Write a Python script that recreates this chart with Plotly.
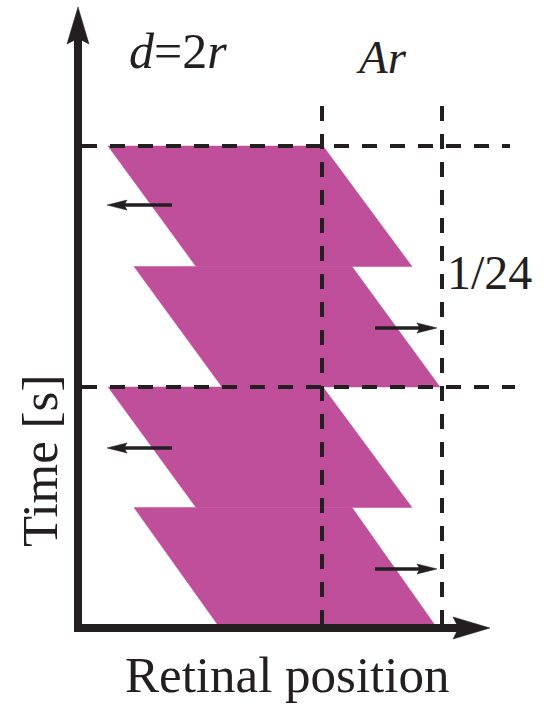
import plotly.graph_objects as go

# ---- data (position in arbitrary retinal units, time in frames of 1/24 s) ----
band_top_t = [2.0, 1.5, 1.0, 0.5]
band_bot_t = [1.5, 1.0, 0.5, 0.0]
top_left = [30, 56, 30, 56]
top_right = [245, 274, 245, 274]
bot_left = [118, 144, 118, 142]
bot_right = [334, 362, 334, 359]

arrow_t = [1.755, 1.245, 0.747, 0.245]
arrow_from = [94, 297, 94, 297]
arrow_to = [29, 359, 29, 359]

frame_lines_t = [2.0, 1.0]
frame_line_x = [[4, 432], [4, 437]]
pos_lines_x = [244, 364]
pos_line_t = [0.0, 2.166]

x_axis_end = 412
t_axis_end = 2.577

MAGENTA = "#BF4F9A"
INK = "#231F20"
FONT = "Liberation Serif, Times New Roman, serif"

# pixel scaling of the axes (for arrowhead geometry)
X_RANGE = [-78, 466]
T_RANGE = [-0.3154, 2.6058]
PX_PER_T = 704 / (T_RANGE[1] - T_RANGE[0])
PX_PER_X = 544 / (X_RANGE[1] - X_RANGE[0])

fig = go.Figure()

# parallelograms
for i in range(len(band_top_t)):
    fig.add_trace(go.Scatter(
        x=[top_left[i], top_right[i], bot_right[i], bot_left[i], top_left[i]],
        y=[band_top_t[i], band_top_t[i], band_bot_t[i], band_bot_t[i], band_top_t[i]],
        fill="toself", fillcolor=MAGENTA, mode="lines",
        line=dict(color=MAGENTA, width=0.5), hoverinfo="skip", showlegend=False))

# dashed frame lines
for t, xs in zip(frame_lines_t, frame_line_x):
    fig.add_trace(go.Scatter(x=xs, y=[t, t], mode="lines",
                             line=dict(color=INK, width=4, dash="15px,13px"),
                             hoverinfo="skip", showlegend=False))
for xv in pos_lines_x:
    fig.add_trace(go.Scatter(x=[xv, xv], y=[pos_line_t[1], pos_line_t[0]], mode="lines",
                             line=dict(color=INK, width=4, dash="15px,13px"),
                             hoverinfo="skip", showlegend=False))


def head_h(tip_x, t, direction, length_px, half_px):
    dx = direction * length_px / PX_PER_X
    dt = half_px / PX_PER_T
    return [tip_x, tip_x - dx, tip_x - dx * 0.85, tip_x - dx, tip_x], [t, t + dt, t, t - dt, t]


def head_v(x, tip_t, length_px, half_px):
    dt = length_px / PX_PER_T
    dx = half_px / PX_PER_X
    return [x, x - dx, x, x + dx, x], [tip_t, tip_t - dt, tip_t - dt * 0.85, tip_t - dt, tip_t]


# motion arrows
for t, a, b in zip(arrow_t, arrow_from, arrow_to):
    d = 1 if b > a else -1
    fig.add_trace(go.Scatter(x=[a, b - d * 10], y=[t, t], mode="lines",
                             line=dict(color=INK, width=3.5), hoverinfo="skip", showlegend=False))
    hx, hy = head_h(b, t, d, 20, 5)
    fig.add_trace(go.Scatter(x=hx, y=hy, fill="toself", fillcolor=INK, mode="lines",
                             line=dict(color=INK, width=0.5), hoverinfo="skip", showlegend=False))

# main axes
fig.add_trace(go.Scatter(x=[0, 0, x_axis_end - 30], y=[t_axis_end - 0.12, 0, 0], mode="lines",
                         line=dict(color=INK, width=8), hoverinfo="skip", showlegend=False))
hx, hy = head_h(x_axis_end, 0, 1, 37, 11)
fig.add_trace(go.Scatter(x=hx, y=hy, fill="toself", fillcolor=INK, mode="lines",
                         line=dict(color=INK, width=0.5), hoverinfo="skip", showlegend=False))
vx, vy = head_v(0, t_axis_end, 37, 11)
fig.add_trace(go.Scatter(x=vx, y=vy, fill="toself", fillcolor=INK, mode="lines",
                         line=dict(color=INK, width=0.5), hoverinfo="skip", showlegend=False))
# small tick at frame boundary
fig.add_trace(go.Scatter(x=[0, 12], y=[1.0, 1.0], mode="lines",
                         line=dict(color=INK, width=3), hoverinfo="skip", showlegend=False))

ann = [
    dict(x=100, y=2.395, text="<i>d</i>=2<i>r</i>", size=50),
    dict(x=303, y=2.37, text="<i>Ar</i>", size=47),
    dict(x=411, y=1.477, text="1/24", size=48),
    dict(x=209, y=-0.195, text="Retinal position", size=51),
]
for a in ann:
    fig.add_annotation(x=a["x"], y=a["y"], text=a["text"], showarrow=False,
                       xanchor="center", yanchor="middle",
                       font=dict(family=FONT, size=a["size"], color=INK))
fig.add_annotation(x=-38, y=0.693, text="Time [s]", showarrow=False, textangle=-90,
                   xanchor="center", yanchor="middle",
                   font=dict(family=FONT, size=51, color=INK))

fig.update_layout(
    width=544, height=704, margin=dict(l=0, r=0, t=0, b=0),
    paper_bgcolor="white", plot_bgcolor="white",
    xaxis=dict(range=X_RANGE, visible=False, fixedrange=True),
    yaxis=dict(range=T_RANGE, visible=False, fixedrange=True),
)
fig.write_html("out.html")
